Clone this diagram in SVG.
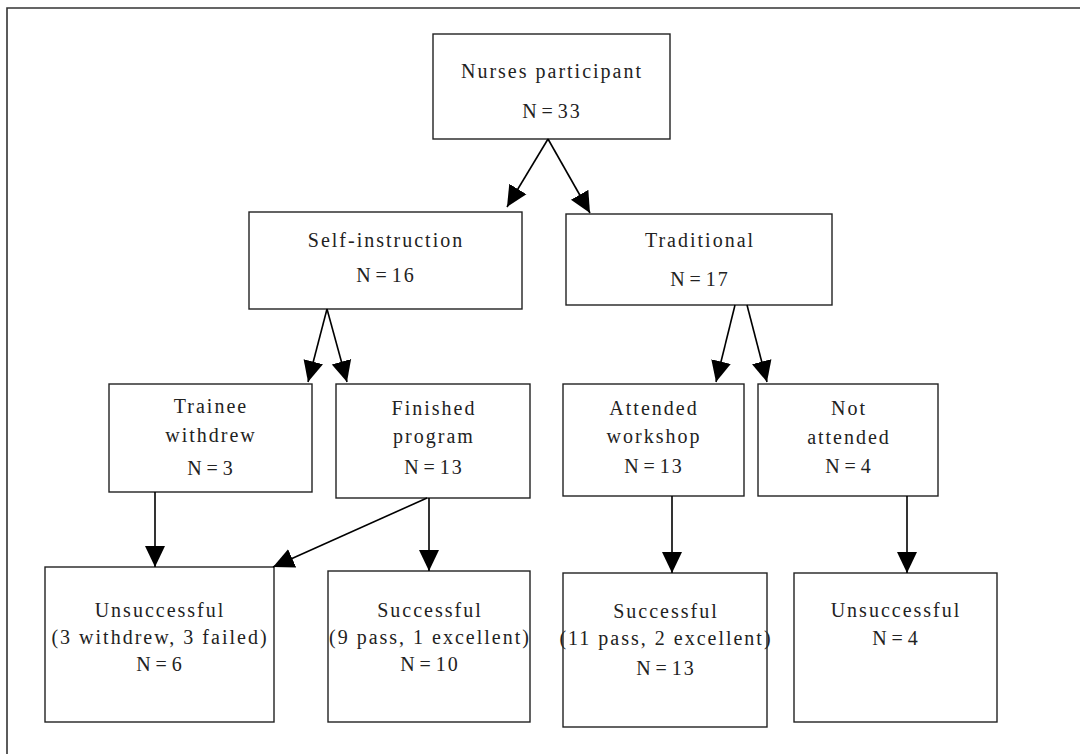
<svg xmlns="http://www.w3.org/2000/svg" width="1080" height="754" viewBox="0 0 1080 754">
<style>
.box{fill:#fff;stroke:#222;stroke-width:1.4}
.frame{fill:none;stroke:#333;stroke-width:1.6}
text{font-family:"Liberation Serif","Times New Roman",serif;font-size:20px;fill:#222;text-anchor:middle;letter-spacing:2px}
.c line{stroke:#000;stroke-width:1.6;marker-end:url(#ah)}
</style>
<defs>
<marker id="ah" markerUnits="userSpaceOnUse" markerWidth="24" markerHeight="22" viewBox="0 -11 24 22" refX="21" refY="0" orient="auto">
<path d="M0,-10 L21,0 L0,10 z" fill="#000"/>
</marker>
</defs>
<rect width="1080" height="754" fill="#fff"/>
<path class="frame" d="M7,754 V8 H1080"/>
<g id="n_nurses">
<rect class="box" x="433" y="34" width="237" height="105"/>
<text x="552" y="78">Nurses participant</text>
<text x="552" y="118">N<tspan dx="3">=</tspan><tspan dx="3">33</tspan></text>
</g>
<g id="n_self">
<rect class="box" x="249" y="212" width="273" height="97"/>
<text x="386" y="247">Self-instruction</text>
<text x="386" y="282">N<tspan dx="3">=</tspan><tspan dx="3">16</tspan></text>
</g>
<g id="n_trad">
<rect class="box" x="566" y="214" width="266" height="91"/>
<text x="700" y="247">Traditional</text>
<text x="700" y="286">N<tspan dx="3">=</tspan><tspan dx="3">17</tspan></text>
</g>
<g id="n_trainee">
<rect class="box" x="109" y="384" width="203" height="108"/>
<text x="211" y="413">Trainee</text>
<text x="211" y="442">withdrew</text>
<text x="211" y="475">N<tspan dx="3">=</tspan><tspan dx="3">3</tspan></text>
</g>
<g id="n_finished">
<rect class="box" x="336" y="384" width="194" height="114"/>
<text x="434" y="415">Finished</text>
<text x="434" y="443">program</text>
<text x="434" y="474">N<tspan dx="3">=</tspan><tspan dx="3">13</tspan></text>
</g>
<g id="n_attended">
<rect class="box" x="563" y="384" width="181" height="112"/>
<text x="654" y="415">Attended</text>
<text x="654" y="443">workshop</text>
<text x="654" y="473">N<tspan dx="3">=</tspan><tspan dx="3">13</tspan></text>
</g>
<g id="n_notattended">
<rect class="box" x="758" y="384" width="180" height="112"/>
<text x="849" y="415">Not</text>
<text x="849" y="444">attended</text>
<text x="849" y="473">N<tspan dx="3">=</tspan><tspan dx="3">4</tspan></text>
</g>
<g id="n_unsucc1">
<rect class="box" x="45" y="567" width="229" height="155"/>
<text x="160" y="617">Unsuccessful</text>
<text x="160" y="644">(3 withdrew, 3 failed)</text>
<text x="160" y="671">N<tspan dx="3">=</tspan><tspan dx="3">6</tspan></text>
</g>
<g id="n_succ1">
<rect class="box" x="328" y="571" width="202" height="151"/>
<text x="430" y="617">Successful</text>
<text x="430" y="644">(9 pass, 1 excellent)</text>
<text x="430" y="671">N<tspan dx="3">=</tspan><tspan dx="3">10</tspan></text>
</g>
<g id="n_succ2">
<rect class="box" x="563" y="573" width="204" height="154"/>
<text x="666" y="618">Successful</text>
<text x="666" y="645">(11 pass, 2 excellent)</text>
<text x="666" y="675">N<tspan dx="3">=</tspan><tspan dx="3">13</tspan></text>
</g>
<g id="n_unsucc2">
<rect class="box" x="794" y="573" width="203" height="149"/>
<text x="896" y="617">Unsuccessful</text>
<text x="896" y="645">N<tspan dx="3">=</tspan><tspan dx="3">4</tspan></text>
</g>
<g id="connectors" class="c">
<line x1="548" y1="139" x2="507" y2="207"/>
<line x1="548" y1="139" x2="590" y2="213"/>
<line x1="327" y1="309" x2="308" y2="382"/>
<line x1="327" y1="309" x2="347" y2="382"/>
<line x1="735" y1="305" x2="716" y2="382"/>
<line x1="747" y1="305" x2="767" y2="382"/>
<line x1="155" y1="492" x2="155" y2="567"/>
<line x1="427" y1="498" x2="273" y2="567"/>
<line x1="429" y1="498" x2="429" y2="571"/>
<line x1="672" y1="496" x2="672" y2="573"/>
<line x1="907" y1="496" x2="907" y2="573"/>
</g>
</svg>
